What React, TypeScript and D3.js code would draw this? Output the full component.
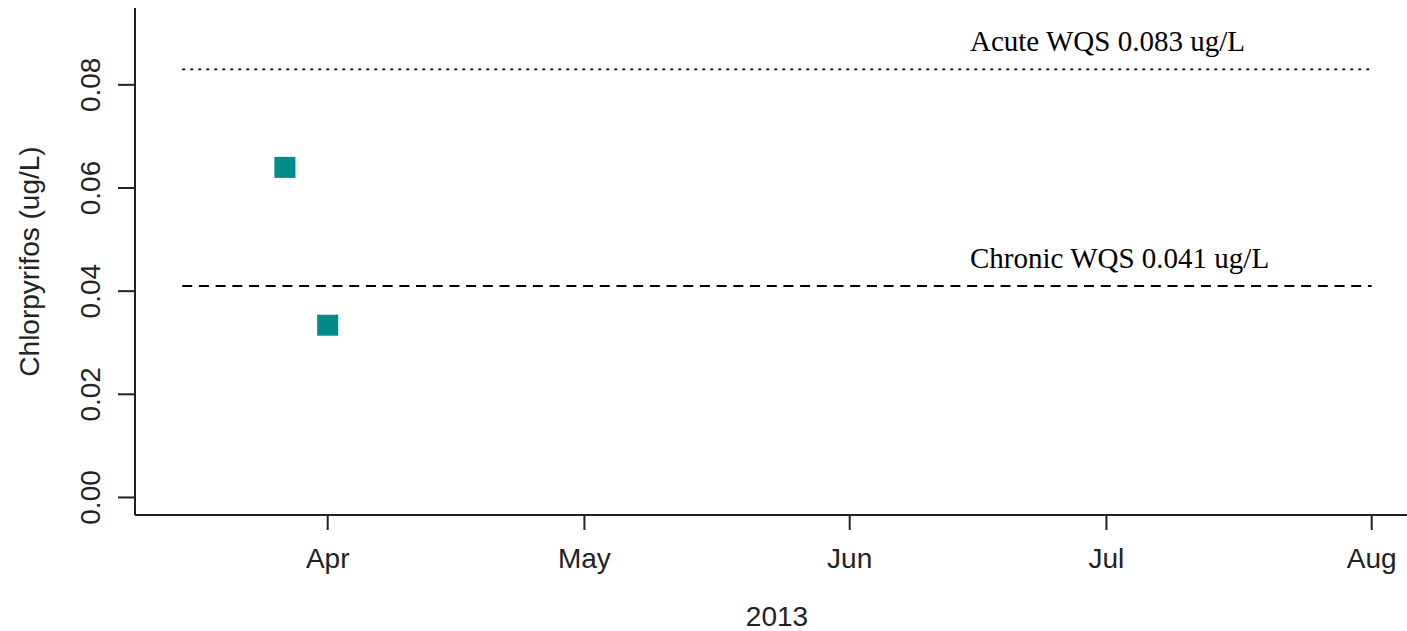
import React from "react";
import * as d3 from "d3";

const sampleDates = ["2013-03-27", "2013-04-01"];
const chlorpyrifos = [0.064, 0.0334];

const thresholdValues = [0.083, 0.041];
const thresholdLabels = ["Acute WQS 0.083 ug/L", "Chronic WQS 0.041 ug/L"];
const thresholdDash = ["3 5", "10 6.7"];
const thresholdStart = "2013-03-15";
const thresholdEnd = "2013-08-01";
const thresholdLabelDate = "2013-06-15";

const monthTicks = ["2013-04-01", "2013-05-01", "2013-06-01", "2013-07-01", "2013-08-01"];
const monthLabels = ["Apr", "May", "Jun", "Jul", "Aug"];
const yTicks = [0, 0.02, 0.04, 0.06, 0.08];
const yTickLabels = ["0.00", "0.02", "0.04", "0.06", "0.08"];

const parse = d3.timeParse("%Y-%m-%d");

export default function App() {
  const W = 1407, H = 631;
  const x = d3.scaleTime()
    .domain([parse("2013-04-01")!, parse("2013-08-01")!])
    .range([327.7, 1371.7]);
  const y = d3.scaleLinear().domain([-0.0034, 0.0949]).range([515, 8]);
  const axisX = 135;
  const axisY = 515;
  const sans = "'Liberation Sans', Arial, sans-serif";
  const serif = "'Liberation Serif', 'Times New Roman', serif";
  const teal = "#008B8B";
  const sq = 21;
  const labelX = 970;

  return (
    <svg width={W} height={H} style={{ position: "absolute", left: 0, top: 0, background: "#fff" }}>
      {/* reference lines */}
      {thresholdValues.map((v, i) => (
        <g key={"t" + i}>
          <line
            x1={x(parse(thresholdStart)!)}
            x2={x(parse(thresholdEnd)!)}
            y1={y(v)}
            y2={y(v)}
            stroke="#000"
            strokeWidth={1.8}
            strokeDasharray={thresholdDash[i]}
          />
          <text x={labelX} y={y(v) - 18} fontFamily={serif} fontSize={29} fill="#000">
            {thresholdLabels[i]}
          </text>
        </g>
      ))}
      {/* points */}
      {sampleDates.map((d, i) => (
        <rect
          key={"p" + i}
          x={x(parse(d)!) - sq / 2}
          y={y(chlorpyrifos[i]) - sq / 2}
          width={sq}
          height={sq}
          fill={teal}
        />
      ))}
      {/* axes */}
      <line x1={axisX} x2={axisX} y1={y(0.0949)} y2={axisY} stroke="#222" strokeWidth={2} />
      <line x1={axisX} x2={W} y1={axisY} y2={axisY} stroke="#222" strokeWidth={2} />
      {yTicks.map((t, i) => (
        <g key={"y" + i}>
          <line x1={axisX - 17} x2={axisX} y1={y(t)} y2={y(t)} stroke="#222" strokeWidth={2} />
          <text
            transform={`translate(100,${y(t)}) rotate(-90)`}
            textAnchor="middle"
            fontFamily={sans}
            fontSize={28}
            fill="#222"
          >
            {yTickLabels[i]}
          </text>
        </g>
      ))}
      {monthTicks.map((m, i) => {
        const px = x(parse(m)!);
        return (
          <g key={"x" + i}>
            <line x1={px} x2={px} y1={axisY} y2={axisY + 15} stroke="#222" strokeWidth={2} />
            <text x={px} y={568} textAnchor="middle" fontFamily={sans} fontSize={28} fill="#222">
              {monthLabels[i]}
            </text>
          </g>
        );
      })}
      <text x={777} y={626} textAnchor="middle" fontFamily={sans} fontSize={28} fill="#222">
        2013
      </text>
      <text
        transform={`translate(39,${(8 + 515) / 2}) rotate(-90)`}
        textAnchor="middle"
        fontFamily={sans}
        fontSize={28}
        fill="#222"
      >
        Chlorpyrifos (ug/L)
      </text>
    </svg>
  );
}
